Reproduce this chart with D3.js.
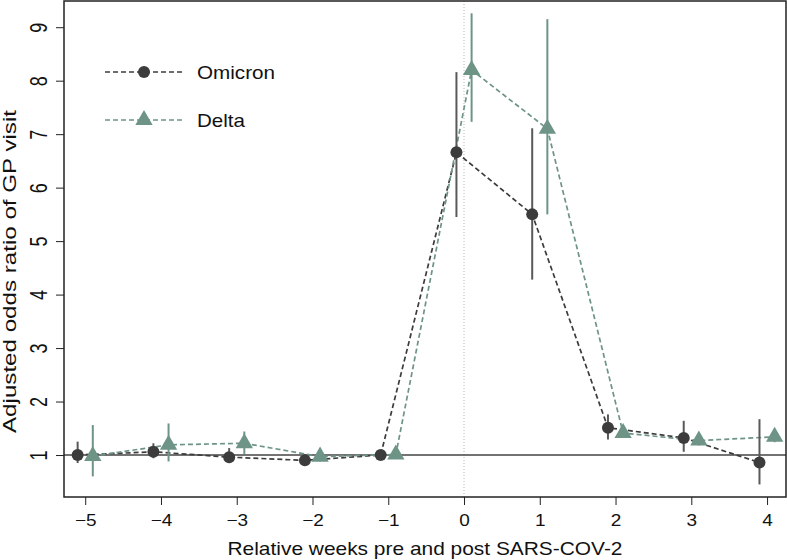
<!DOCTYPE html>
<html><head><meta charset="utf-8">
<script src="https://cdn.jsdelivr.net/npm/d3@7"></script>
<style>body{margin:0;background:#fff}text{font-family:"Liberation Sans",Arial,sans-serif}</style>
</head><body><svg id="c" width="787" height="560"></svg>
<script>
const weeks = [-5,-4,-3,-2,-1,0,1,2,3,4];
const omicronOR = [1.00,1.06,0.96,0.90,1.00,6.66,5.50,1.51,1.32,0.86];
const omicronLo = [0.85,0.94,0.85,0.80,0.96,5.45,4.28,1.29,1.06,0.45];
const omicronHi = [1.25,1.22,1.13,1.02,1.04,8.16,7.11,1.76,1.64,1.67];
const deltaOR = [0.98,1.19,1.22,0.97,1.01,8.20,7.10,1.41,1.27,1.34];
const deltaLo = [0.60,0.88,1.02,0.88,0.97,7.23,5.50,1.32,1.18,1.24];
const deltaHi = [1.56,1.59,1.44,1.08,1.05,9.26,9.15,1.50,1.35,1.45];
const xTicks = [-5,-4,-3,-2,-1,0,1,2,3,4];
const yTicks = [1,2,3,4,5,6,7,8,9];
const series = [
  {name:"Omicron", or:omicronOR, lo:omicronLo, hi:omicronHi, off:-0.1, color:"#3c3c3c", bar:"#595959", shape:"circle", w:78},
  {name:"Delta", or:deltaOR, lo:deltaLo, hi:deltaHi, off:0.1, color:"#6e9486", bar:"#6e9486", shape:"triangle", w:48}
];
const svg = d3.select("#c");
const L=64, R=786, T=1, B=497;
const x = d3.scaleLinear().domain([-5.28,4.25]).range([L,R]);
const y = d3.scaleLinear().domain([0.215,9.49]).range([B,T]);

svg.append("line").attr("x1",x(0)).attr("x2",x(0)).attr("y1",T).attr("y2",B)
  .attr("stroke","#b5b5b5").attr("stroke-width",1).attr("stroke-dasharray","1,2");
svg.append("line").attr("x1",L).attr("x2",R).attr("y1",y(1)).attr("y2",y(1))
  .attr("stroke","#444").attr("stroke-width",1.5);

const line = d3.line();
series.forEach(s=>{
  const pts = weeks.map((w,i)=>[x(w+s.off), y(s.or[i])]);
  svg.append("path").attr("d",line(pts)).attr("fill","none")
    .attr("stroke",s.color).attr("stroke-width",1.7).attr("stroke-dasharray","5,3");
});
series.forEach(s=>{
  weeks.forEach((w,i)=>{
    svg.append("line").attr("x1",x(w+s.off)).attr("x2",x(w+s.off))
      .attr("y1",y(s.lo[i])).attr("y2",y(s.hi[i]))
      .attr("stroke",s.bar).attr("stroke-width",2);
  });
});
function marker(g, s, cx, cy){
  if(s.shape==="circle"){
    g.append("circle").attr("cx",cx).attr("cy",cy).attr("r",6).attr("fill",s.color);
  } else {
    g.append("path").attr("d",d3.symbol(d3.symbolTriangle,130)())
      .attr("transform",`translate(${cx},${cy})`).attr("fill",s.color);
  }
}
series.forEach(s=>{
  weeks.forEach((w,i)=>marker(svg,s,x(w+s.off),y(s.or[i])));
});

svg.append("rect").attr("x",L).attr("y",T).attr("width",R-L).attr("height",B-T)
  .attr("fill","none").attr("stroke","#222").attr("stroke-width",1.5);

const xa = svg.append("g").attr("transform",`translate(0,${B})`)
  .call(d3.axisBottom(x).tickValues(xTicks).tickSize(8).tickPadding(5).tickFormat(d3.format("d")));
xa.select(".domain").remove();
xa.selectAll("text").attr("font-size",16.5).attr("fill","#111").attr("dy",0).attr("y",29.5)
  .attr("transform","scale(1.15,1)");
xa.selectAll("line").attr("stroke","#222");
const ya = svg.append("g").attr("transform",`translate(${L},0)`)
  .call(d3.axisLeft(y).tickValues(yTicks).tickSize(8).tickFormat(d3.format("d")));
ya.select(".domain").remove();
ya.selectAll("line").attr("stroke","#222");
ya.selectAll("text").attr("font-size",18).attr("fill","#111")
  .attr("text-anchor","middle").attr("dy",0).attr("x",0).attr("y",0)
  .attr("transform",`translate(-17.3,0) rotate(-90) scale(1,1.28)`);

svg.append("text").attr("x",425).attr("y",555).attr("text-anchor","middle")
  .attr("font-size",18.5).attr("fill","#111").attr("textLength",395).attr("lengthAdjust","spacingAndGlyphs")
  .text("Relative weeks pre and post SARS-COV-2");
svg.append("text").attr("transform",`translate(16,271.5) rotate(-90)`).attr("text-anchor","middle")
  .attr("font-size",18.5).attr("fill","#111").attr("textLength",323).attr("lengthAdjust","spacingAndGlyphs")
  .text("Adjusted odds ratio of GP visit");

series.forEach((s,i)=>{
  const ly = 72 + i*48;
  svg.append("line").attr("x1",105).attr("x2",183).attr("y1",ly).attr("y2",ly)
    .attr("stroke",s.color).attr("stroke-width",1.7).attr("stroke-dasharray","5,3");
  marker(svg,s,144,ly);
  svg.append("text").attr("x",197).attr("y",ly+6.5).attr("font-size",18.5).attr("fill","#111")
    .attr("textLength",s.w).attr("lengthAdjust","spacingAndGlyphs").text(s.name);
});
</script></body></html>
